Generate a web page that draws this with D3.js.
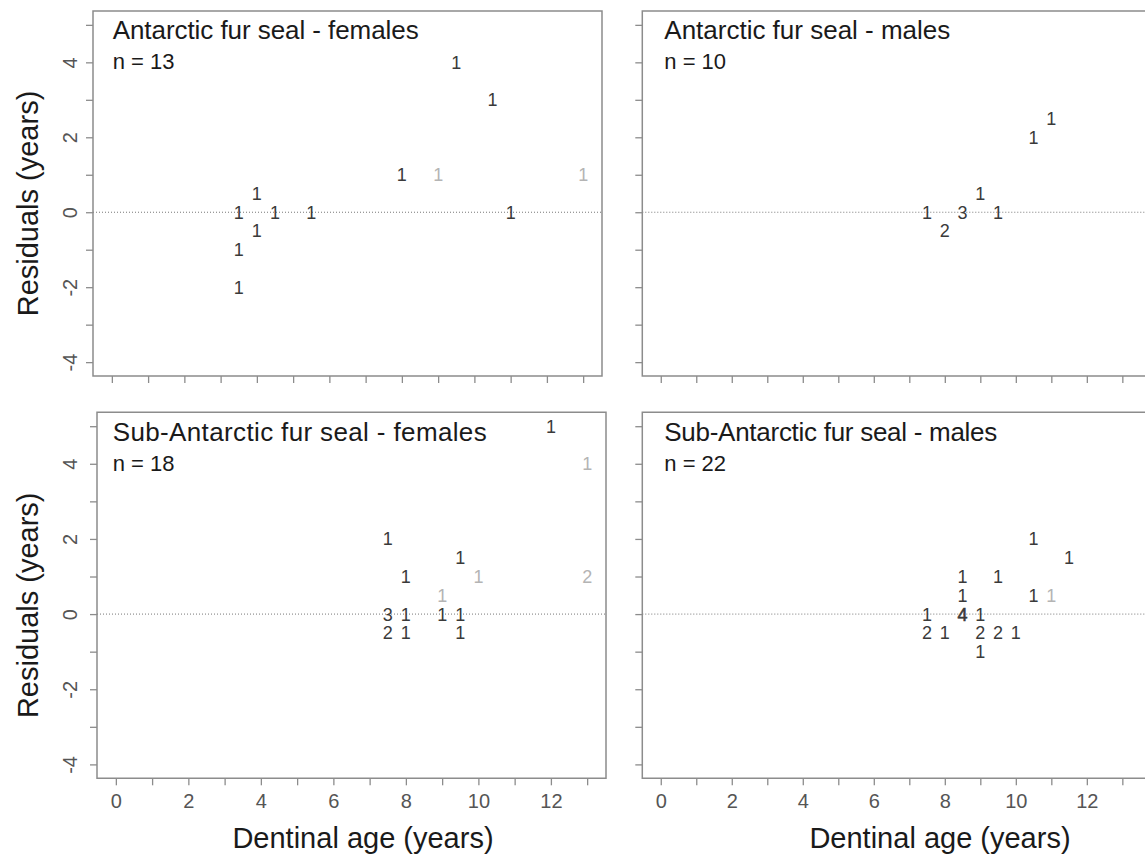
<!DOCTYPE html>
<html>
<head>
<meta charset="utf-8">
<script src="https://cdn.jsdelivr.net/npm/d3@7"></script>
<style>
  body { margin: 0; background: #fff; }
  svg text { font-family: "Liberation Sans", Arial, Helvetica, sans-serif; }
</style>
</head>
<body>
<svg id="chart" width="1145" height="854"></svg>
<script>
// each point: [dentinal age, residual, count, faded]
const antFemales = [
  [9.5, 4, 1, 0], [10.5, 3, 1, 0], [8, 1, 1, 0], [9, 1, 1, 1], [13, 1, 1, 1],
  [4, 0.5, 1, 0], [3.5, 0, 1, 0], [4.5, 0, 1, 0], [5.5, 0, 1, 0], [11, 0, 1, 0],
  [4, -0.5, 1, 0], [3.5, -1, 1, 0], [3.5, -2, 1, 0]
];
const antMales = [
  [11, 2.5, 1, 0], [10.5, 2, 1, 0], [9, 0.5, 1, 0], [7.5, 0, 1, 0],
  [8.5, 0, 3, 0], [9.5, 0, 1, 0], [8, -0.5, 2, 0]
];
const subFemales = [
  [12, 5, 1, 0], [13, 4, 1, 1], [7.5, 2, 1, 0], [9.5, 1.5, 1, 0], [8, 1, 1, 0],
  [10, 1, 1, 1], [13, 1, 2, 1], [9, 0.5, 1, 1], [7.5, 0, 3, 0], [8, 0, 1, 0],
  [9, 0, 1, 0], [9.5, 0, 1, 0], [7.5, -0.5, 2, 0], [8, -0.5, 1, 0], [9.5, -0.5, 1, 0]
];
const subMales = [
  [10.5, 2, 1, 0], [11.5, 1.5, 1, 0], [8.5, 1, 1, 0], [9.5, 1, 1, 0], [8.5, 0.5, 1, 0],
  [10.5, 0.5, 1, 0], [11, 0.5, 1, 1], [7.5, 0, 1, 0], [8.5, 0, 4, 0], [9, 0, 1, 0],
  [7.5, -0.5, 2, 0], [8, -0.5, 1, 0], [9, -0.5, 2, 0], [9.5, -0.5, 2, 0], [10, -0.5, 1, 0],
  [9, -1, 1, 0]
];

const titles = [
  "Antarctic fur seal - females", "Antarctic fur seal - males",
  "Sub-Antarctic fur seal - females", "Sub-Antarctic fur seal - males"
];
const sampleSizes = [13, 10, 18, 22];
const xTicks = [0, 1, 2, 3, 4, 5, 6, 7, 8, 9, 10, 11, 12, 13];
const yTicks = [-4, -3, -2, -1, 0, 1, 2, 3, 4, 5];
const xDomain = [-0.52, 13.52];
const yDomain = [-4.37, 5.37];

const boxColor = "#8c8c8c";
const tickLabelColor = "#555";
const markColor = "#3a3a3a";
const fadedColor = "#b4b4b4";

const svg = d3.select("#chart");

// layout of the four panels (right column runs off the page edge)
const panels = [
  { data: antFemales, left: 93, right: 602, boxRight: 602, top: 11, bottom: 376,
    titleX: 112.7, titleY: 39.3, titleW: 306, yLabels: true, xLabels: false, yOff: 16 },
  { data: antMales, left: 642.3, right: 1140.8, boxRight: 1152, top: 11, bottom: 376,
    titleX: 664.3, titleY: 39.3, titleW: 286, yLabels: false, xLabels: false },
  { data: subFemales, left: 97, right: 606, boxRight: 606, top: 412.3, bottom: 778.3,
    titleX: 112.7, titleY: 441, titleW: 374, yLabels: true, xLabels: true, yOff: 20,
    xTitleX: 363 },
  { data: subMales, left: 642.3, right: 1140.8, boxRight: 1152, top: 412.3, bottom: 778.3,
    titleX: 664.3, titleY: 441, titleW: 333, yLabels: false, xLabels: true,
    xTitleX: 940 }
];

panels.forEach((p, i) => {
  const x = d3.scaleLinear().domain(xDomain).range([p.left, p.right]);
  const y = d3.scaleLinear().domain(yDomain).range([p.bottom, p.top]);
  const g = svg.append("g");

  // zero reference line
  g.append("line")
    .attr("x1", p.left).attr("x2", p.boxRight)
    .attr("y1", y(0)).attr("y2", y(0))
    .attr("stroke", "#777")
    .attr("stroke-width", 1)
    .attr("stroke-dasharray", "1,2");

  // x axis
  const xAxis = g.append("g")
    .attr("transform", `translate(0,${p.bottom})`)
    .call(d3.axisBottom(x).tickValues(xTicks).tickSize(7).tickPadding(9)
      .tickFormat(d => (p.xLabels && d % 2 === 0) ? d : ""));
  xAxis.attr("font-size", null);
  xAxis.select(".domain").remove();
  xAxis.selectAll("line").attr("stroke", boxColor).attr("stroke-width", 1.3);
  xAxis.selectAll("text")
    .style("font-size", "20px")
    .attr("fill", tickLabelColor)
    .attr("dy", "0.71em");

  // y axis
  const yAxis = g.append("g")
    .attr("transform", `translate(${p.left},0)`)
    .call(d3.axisLeft(y).tickValues(yTicks).tickSize(7)
      .tickFormat(d => (p.yLabels && d % 2 === 0) ? d : ""));
  yAxis.attr("font-size", null);
  yAxis.select(".domain").remove();
  yAxis.selectAll("line").attr("stroke", boxColor).attr("stroke-width", 1.3);
  yAxis.selectAll("text")
    .style("font-size", "20px")
    .attr("fill", tickLabelColor)
    .attr("text-anchor", "middle")
    .attr("x", 0)
    .attr("y", -(p.yOff || 16))
    .attr("dy", 0)
    .attr("transform", "rotate(-90)");

  // frame
  g.append("path")
    .attr("d", `M${p.boxRight},${p.top}H${p.left}V${p.bottom}H${p.boxRight}` +
      (p.boxRight < 1145 ? "Z" : ""))
    .attr("fill", "none")
    .attr("stroke", boxColor)
    .attr("stroke-width", 1.5);

  // count labels used as plotting symbols
  g.selectAll("text.mark")
    .data(p.data)
    .enter()
    .append("text")
    .attr("class", "mark")
    .attr("x", d => x(d[0]))
    .attr("y", d => y(d[1]))
    .attr("dy", "0.36em")
    .attr("text-anchor", "middle")
    .attr("font-size", 18)
    .attr("fill", d => d[3] ? fadedColor : markColor)
    .attr("stroke", d => d[2] >= 4 ? markColor : "none")
    .attr("stroke-width", 0.6)
    .text(d => d[2]);

  // panel title and sample size
  g.append("text")
    .attr("x", p.titleX).attr("y", p.titleY)
    .attr("font-size", 26)
    .attr("fill", "#1a1a1a")
    .attr("textLength", p.titleW)
    .attr("lengthAdjust", "spacing")
    .text(titles[i]);
  g.append("text")
    .attr("x", p.titleX).attr("y", p.titleY + 30)
    .attr("font-size", 22)
    .attr("fill", "#1a1a1a")
    .text(`n = ${sampleSizes[i]}`);

  if (p.yLabels) {
    svg.append("text")
      .attr("transform", `translate(38,${(p.top + p.bottom) / 2 + 10}) rotate(-90)`)
      .attr("text-anchor", "middle")
      .attr("font-size", 29)
      .attr("fill", "#1a1a1a")
      .text("Residuals (years)");
  }
  if (p.xLabels) {
    svg.append("text")
      .attr("x", p.xTitleX).attr("y", 848.3)
      .attr("text-anchor", "middle")
      .attr("font-size", 29)
      .attr("fill", "#1a1a1a")
      .text("Dentinal age (years)");
  }
});
</script>
</body>
</html>
